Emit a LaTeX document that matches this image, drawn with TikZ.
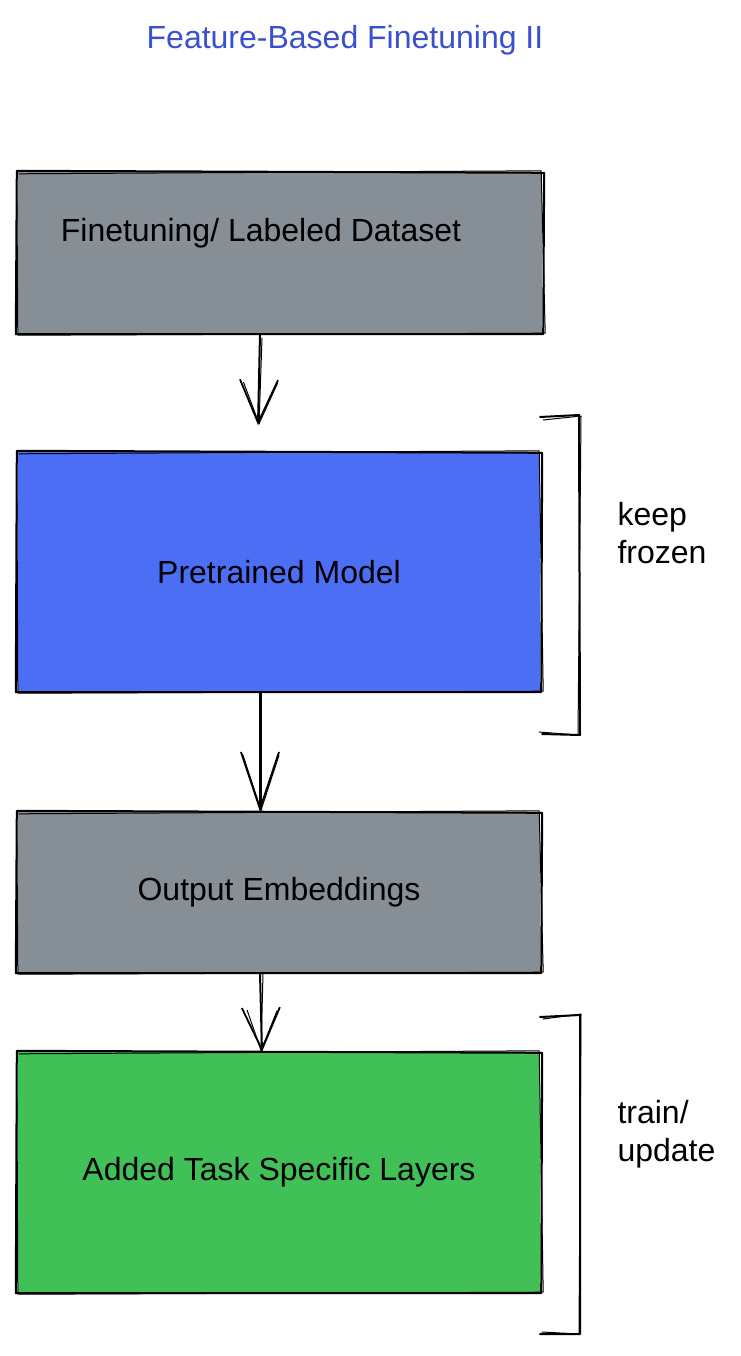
\documentclass[tikz,border=0pt]{standalone}
\usepackage{fontspec}
\setmainfont{Liberation Sans}
\usetikzlibrary{arrows.meta}
\definecolor{exgrey}{HTML}{868E96}
\definecolor{exblue}{HTML}{4C6EF5}
\definecolor{exgreen}{HTML}{40C057}
\definecolor{extitle}{HTML}{3B50CF}
\tikzset{
  txtfont/.style={font=\fontsize{32}{38}\selectfont},
  boxbase/.style={fill=#1, draw=none, minimum height=160pt, minimum width=522pt, inner sep=0pt, txtfont},
  sk/.style={line width=2pt, line join=round, line cap=round},
  skthin/.style={line width=1pt, line join=round, line cap=round},
  arr/.style={sk, -{Straight Barb[length=#1, width=38pt, line width=1.8pt]}},
  side/.style={anchor=west, align=left, txtfont},
}
\newcommand\skbox[1]{%
  \draw[sk] ([shift={(-1,-1)}]#1.north west) -- ([shift={(2,1)}]#1.north east) -- ([shift={(1,0)}]#1.south east) -- ([shift={(-2,0)}]#1.south west) -- cycle;
  \draw[skthin] ([shift={(1,2)}]#1.north west) -- ([shift={(-1,-1)}]#1.north east) -- ([shift={(3,-1)}]#1.south east) -- ([shift={(0,1)}]#1.south west) -- ([shift={(-1,1)}]#1.north west);
}
\begin{document}
\begin{tikzpicture}[x=1pt, y=-1pt]
\useasboundingbox[fill=white] (0,0) rectangle (740,1356);
\node[text=extitle, txtfont] (title) at (345,40) {Feature-Based Finetuning II};

\node[boxbase=exgrey, minimum height=162pt, minimum width=524pt] (data) at (280,253) {};
\node[txtfont] (datatxt) at (261,233) {Finetuning/ Labeled Dataset};
\node[boxbase=exblue, minimum height=240pt] (model) at (279,572) {Pretrained Model};
\node[boxbase=exgrey, minimum height=161pt] (emb) at (279,892.5) {Output Embeddings};
\node[boxbase=exgreen, minimum height=241pt] (task) at (279,1172.5) {Added Task Specific Layers};
\skbox{data}
\skbox{model}
\skbox{emb}
\skbox{task}

% arrows
\coordinate (a1s) at ([xshift=-20pt]data.south);
\coordinate (a1e) at (258,425);
\draw[arr=43pt] (a1s) -- (a1e);
\draw[skthin, -{Straight Barb[length=41pt, width=34pt, line width=1pt]}] ([xshift=2pt,yshift=-4pt]a1s) -- ([xshift=1pt]a1e);
\coordinate (a2s) at ([xshift=-19pt]model.south);
\coordinate (a2e) at ([xshift=-19pt]emb.north);
\draw[arr=57pt] (a2s) -- (a2e);
\draw[skthin, -{Straight Barb[length=55pt, width=36pt, line width=1pt]}] ([xshift=1pt]a2s) -- ([xshift=1pt]a2e);
\coordinate (a3s) at ([xshift=-19pt]emb.south);
\coordinate (a3e) at ([xshift=-17pt]task.north);
\draw[arr=42pt] (a3s) -- (a3e);
\draw[skthin, -{Straight Barb[length=40pt, width=30pt, line width=1pt]}] ([xshift=3pt]a3s) -- ([xshift=-1pt]a3e);

% brackets
\coordinate (b1a) at (540,417);
\coordinate (b1b) at (579,415);
\coordinate (b1c) at (580,735);
\coordinate (b1d) at (542,734);
\draw[sk] (b1a) -- (b1b) -- (b1c) -- (b1d);
\draw[skthin] ([shift={(3,3)}]b1a) -- ([shift={(2,1)}]b1b) -- ([shift={(-2,0)}]b1c) -- ([shift={(-3,-2)}]b1d);
\coordinate (b2a) at (540,1017);
\coordinate (b2b) at (580,1015);
\coordinate (b2c) at (580,1334);
\coordinate (b2d) at (540,1334);
\draw[sk] (b2a) -- (b2b) -- (b2c) -- (b2d);
\draw[skthin] ([shift={(3,2)}]b2a) -- ([shift={(1,-1)}]b2b) -- ([shift={(-1,0)}]b2c) -- ([shift={(2,-2)}]b2d);

\node[side] (frozen) at (614,533) {keep\\frozen};
\node[side] (update) at (614,1134) {train/\\update};
\end{tikzpicture}
\end{document}
